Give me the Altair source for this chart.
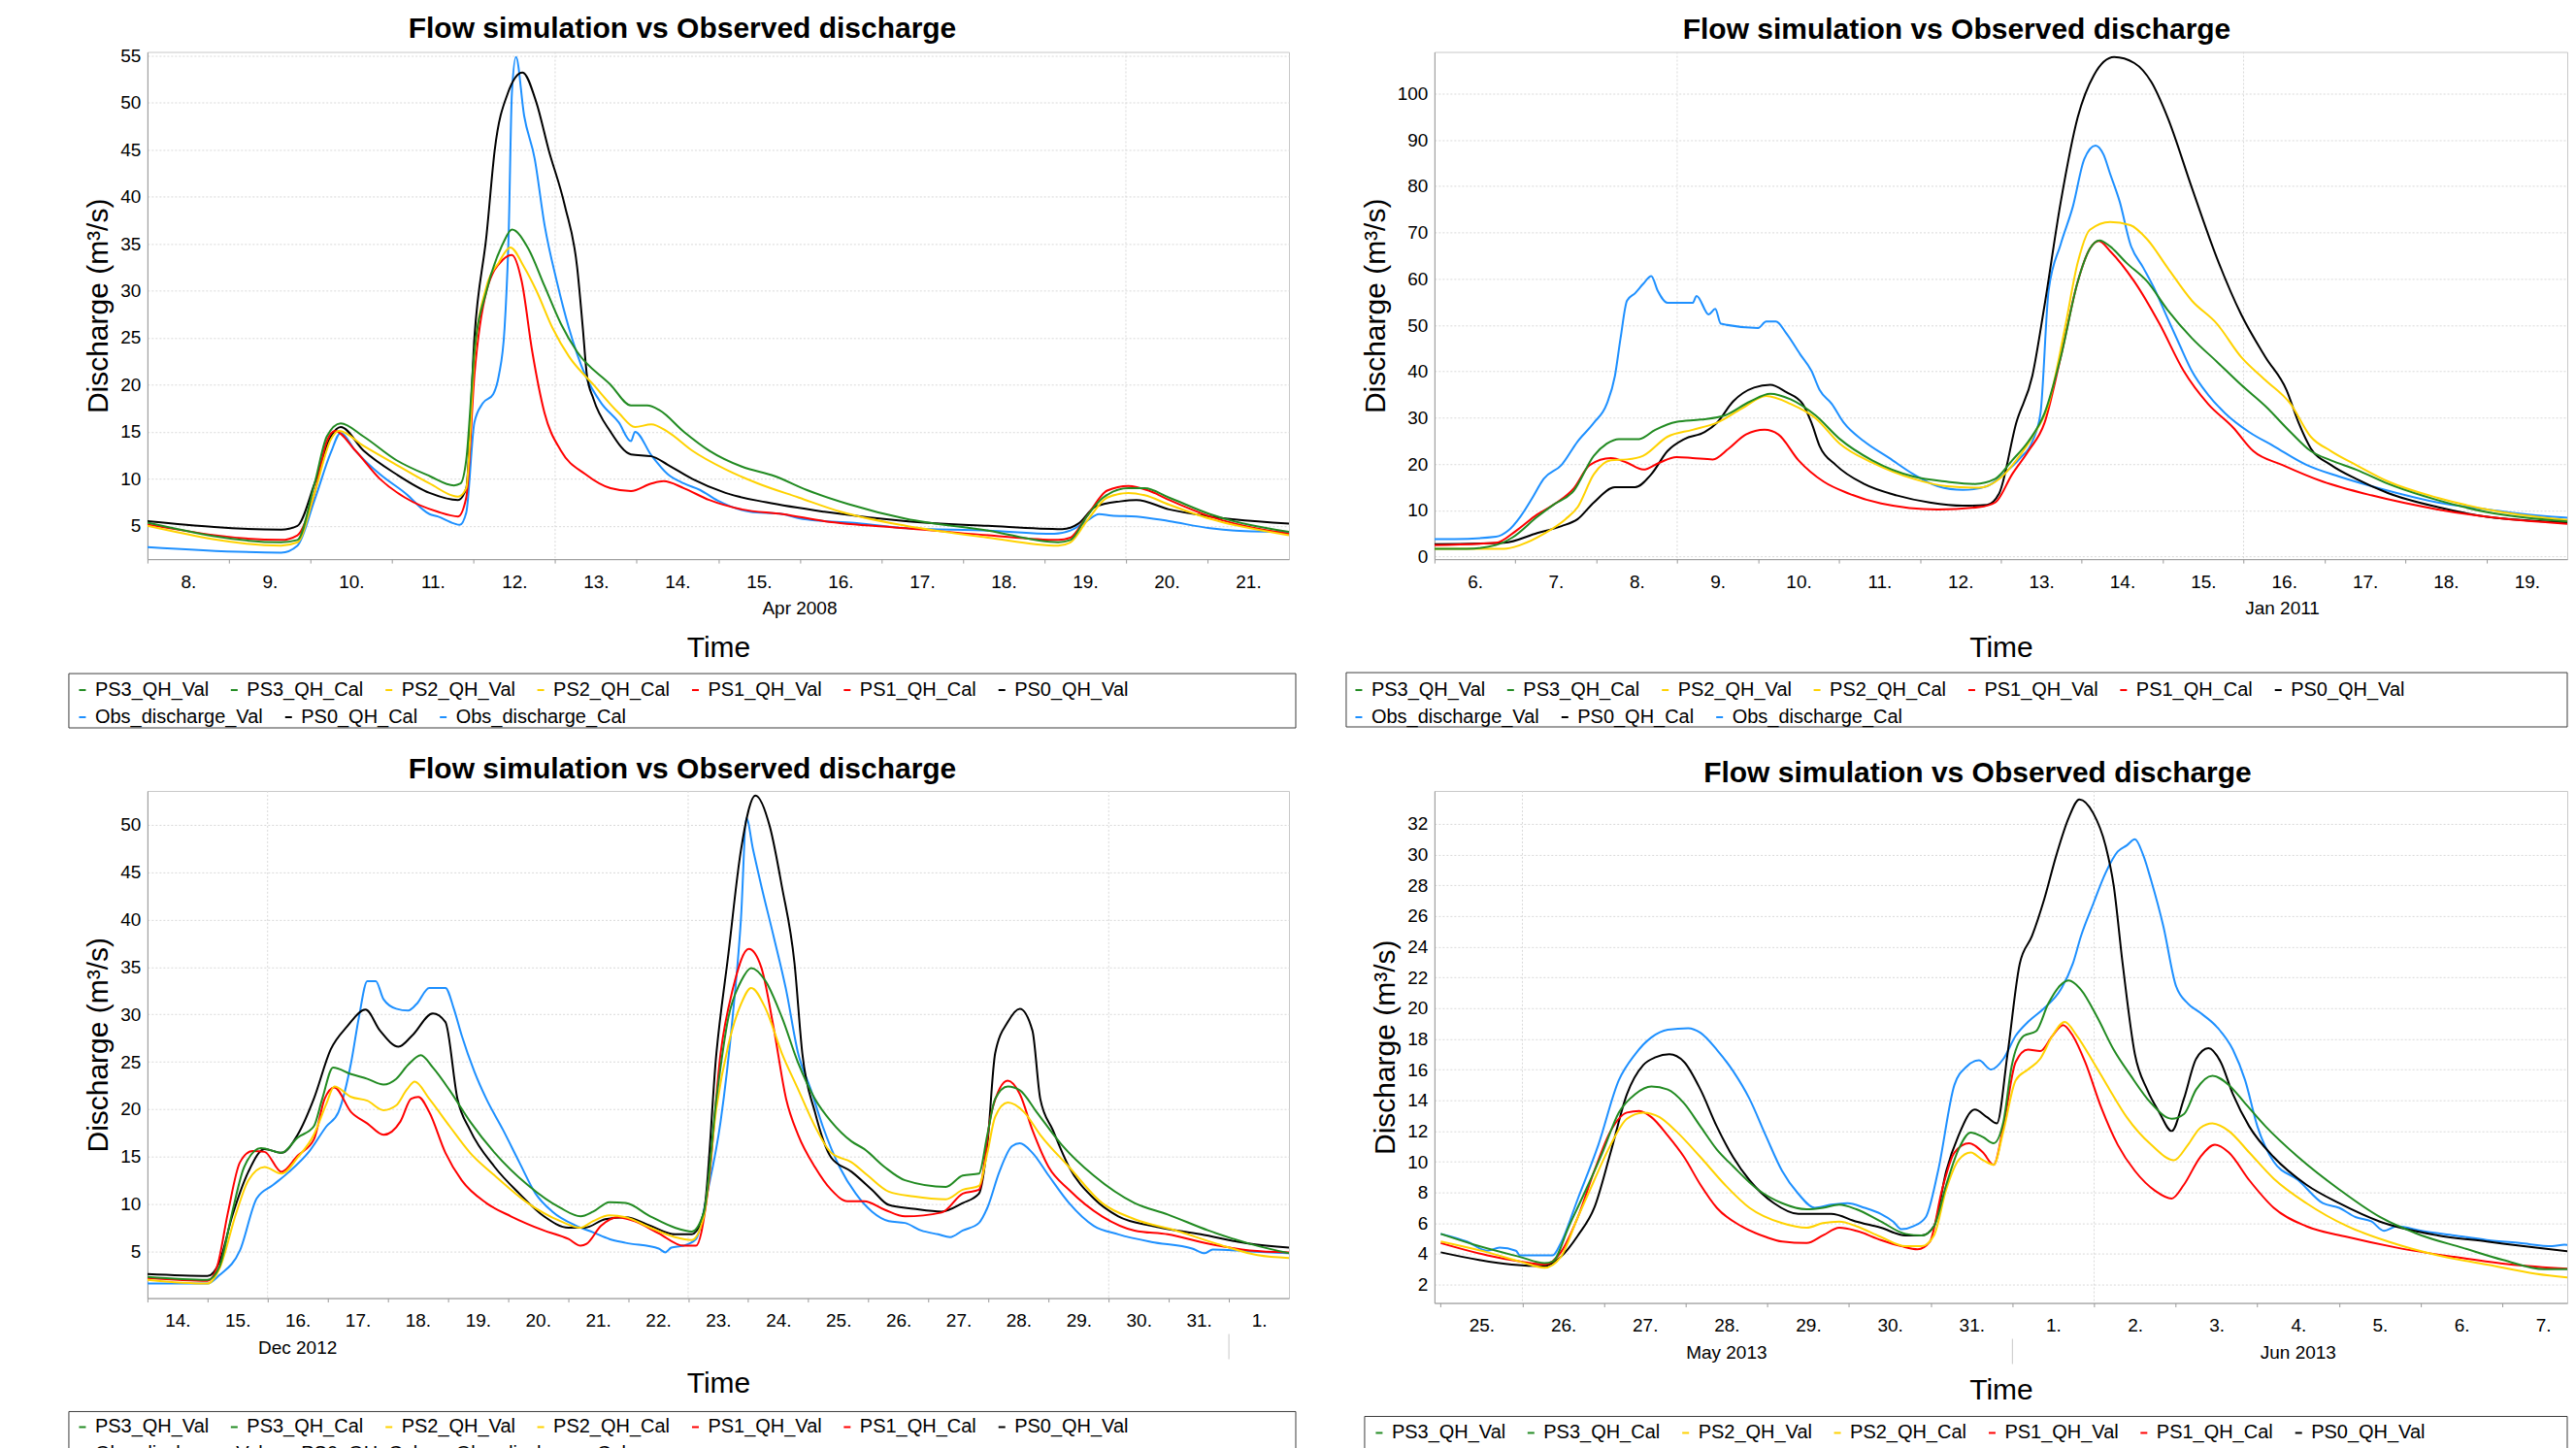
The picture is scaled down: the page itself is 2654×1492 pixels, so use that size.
import altair as alt
import pandas as pd

FONT = "Liberation Sans"
TITLE = "Flow simulation vs Observed discharge"
Y_TITLE = "Discharge (m³/s)"
X_TITLE = "Time"

# legend row 1 (model series) and row 2 (observed + PS0 calibration)
ROW1_NAMES = ["PS3_QH_Val", "PS3_QH_Cal", "PS2_QH_Val", "PS2_QH_Cal", "PS1_QH_Val", "PS1_QH_Cal", "PS0_QH_Val"]
ROW1_COLORS = ["#228B22", "#228B22", "#FFD200", "#FFD200", "#FF0000", "#FF0000", "#000000"]
ROW2_NAMES = ["Obs_discharge_Val", "PS0_QH_Cal", "Obs_discharge_Cal"]
ROW2_COLORS = ["#1E90FF", "#000000", "#1E90FF"]

# ---------------- Panel 1 : April 2008 (x = day of month) ----------------
p1_obs = [(8.0,2.75),(9.64,2.15),(9.84,2.9),(10.05,7.75),(10.25,12.8),(10.37,14.9),(10.55,13.0),(10.85,10.5),
          (11.16,8.5),(11.46,6.25),(11.56,6.0),(11.76,5.25),(11.83,5.1),(11.91,6.4),(12.01,16.0),(12.11,18.0),
          (12.24,19.0),(12.31,21.0),(12.38,26.0),(12.43,36.0),(12.47,51.0),(12.52,54.85),(12.62,48.6),(12.75,44.0),
          (12.87,37.0),(13.02,31.0),(13.17,26.0),(13.37,21.0),(13.57,18.0),(13.78,16.0),(13.93,14.0),(13.98,15.0),
          (14.18,12.5),(14.38,10.5),(14.58,9.5),(14.78,8.8),(14.99,7.7),(15.39,6.5),(15.79,6.25),(15.99,5.8),
          (16.30,5.5),(16.70,5.3),(17.30,4.75),(18.31,4.5),(19.12,4.15),(19.32,4.5),(19.52,5.5),(19.67,6.25),
          (19.82,6.1),(20.13,6.0),(20.53,5.5),(21.03,4.75),(21.34,4.5),(22.0,4.35)]
p1_ps0 = [(8.0,5.5),(9.64,4.6),(9.84,5.0),(10.05,9.5),(10.25,14.5),(10.37,15.5),(10.65,13.0),(11.05,10.5),
          (11.46,8.5),(11.81,7.75),(11.91,9.0),(12.01,25.0),(12.16,36.0),(12.26,45.0),(12.42,51.0),(12.60,53.2),
          (12.77,50.0),(12.92,45.0),(13.12,39.0),(13.27,32.5),(13.34,26.0),(13.39,21.0),(13.47,18.5),(13.68,15.0),
          (13.93,12.6),(14.18,12.4),(14.38,11.5),(14.68,10.0),(15.09,8.5),(15.59,7.5),(16.30,6.5),(17.30,5.5),
          (18.31,5.0),(19.22,4.65),(19.42,5.25),(19.62,7.0),(19.93,7.6),(20.13,7.75),(20.53,6.75),(21.03,6.0),(22.0,5.25)]
p1_ps3 = [(8.0,5.35),(9.64,3.25),(9.84,3.5),(10.05,9.5),(10.20,14.5),(10.37,15.9),(10.65,14.5),(11.05,12.0),
          (11.46,10.3),(11.76,9.3),(11.84,9.5),(11.91,12.0),(12.01,23.5),(12.16,30.0),(12.36,35.0),(12.47,36.5),
          (12.67,34.5),(12.87,30.5),(13.07,26.5),(13.27,23.5),(13.68,20.0),(13.93,17.8),(14.13,17.8),(14.28,17.3),
          (14.58,15.0),(14.89,13.0),(15.29,11.3),(15.69,10.3),(16.09,8.8),(16.60,7.3),(17.30,5.75),(18.31,4.5),
          (19.17,3.25),(19.32,3.5),(19.52,6.0),(19.72,8.0),(20.03,9.0),(20.23,9.0),(20.53,8.0),(21.03,6.25),(22.0,4.35)]
p1_ps2 = [(8.0,5.0),(9.64,2.9),(9.84,3.25),(10.05,8.5),(10.25,14.2),(10.35,15.1),(10.65,13.5),(11.05,11.5),
          (11.46,9.5),(11.81,8.1),(11.91,9.0),(12.01,23.0),(12.16,30.5),(12.31,33.0),(12.45,34.6),(12.62,32.5),
          (12.77,30.0),(12.97,26.0),(13.17,23.0),(13.47,20.0),(13.78,17.0),(13.98,15.5),(14.18,15.8),(14.38,15.0),
          (14.68,13.0),(15.09,11.0),(15.49,9.5),(15.99,8.0),(16.50,6.5),(17.30,5.0),(18.31,3.75),(19.17,2.9),
          (19.32,3.25),(19.52,5.5),(19.77,8.0),(20.03,8.5),(20.23,8.25),(20.53,7.25),(21.03,5.75),(22.0,4.0)]
p1_ps1 = [(8.0,5.15),(9.64,3.5),(9.84,4.0),(10.05,8.5),(10.20,14.0),(10.30,15.1),(10.55,13.0),(10.85,10.0),
          (11.16,8.0),(11.56,6.5),(11.81,6.0),(11.91,8.0),(12.01,21.0),(12.16,30.0),(12.36,33.3),(12.47,33.8),
          (12.59,31.0),(12.72,23.5),(12.87,17.0),(13.07,13.0),(13.37,10.5),(13.68,9.0),(13.93,8.7),(14.18,9.5),
          (14.33,9.75),(14.58,9.0),(14.89,7.75),(15.29,6.75),(15.79,6.25),(16.30,5.5),(17.30,4.75),(18.31,4.0),
          (19.17,3.5),(19.32,3.75),(19.52,6.0),(19.77,8.75),(20.03,9.25),(20.28,8.75),(20.53,7.75),(21.03,6.0),(22.0,4.15)]

# ---------------- Panel 2 : January 2011 ----------------
p2_obs = [(6.0,3.8),(6.25,3.8),(6.76,4.3),(6.91,5.6),(7.06,8.6),(7.21,12.7),(7.35,16.8),(7.57,19.8),(7.77,24.9),
          (7.97,28.9),(8.13,33.0),(8.23,39.0),(8.30,47.2),(8.38,55.3),(8.48,56.9),(8.58,58.9),(8.68,60.6),(8.76,57.4),
          (8.88,54.8),(9.19,54.8),(9.24,56.3),(9.39,52.3),(9.47,53.5),(9.54,50.3),(10.00,49.4),(10.10,50.8),
          (10.22,50.8),(10.35,48.2),(10.52,43.7),(10.66,40.1),(10.76,36.0),(10.91,33.0),(11.06,28.9),(11.31,24.9),
          (11.62,21.3),(11.92,17.8),(12.22,15.2),(12.53,14.4),(12.83,15.2),(13.03,17.8),(13.24,21.3),(13.39,24.9),
          (13.49,31.0),(13.59,57.4),(13.74,67.5),(13.89,75.6),(14.03,85.8),(14.17,88.8),(14.27,86.8),(14.35,82.7),
          (14.47,76.6),(14.60,67.5),(14.76,62.4),(14.91,57.4),(15.04,52.3),(15.21,45.7),(15.36,40.1),(15.56,35.0),
          (15.77,31.0),(16.07,26.9),(16.37,23.9),(16.78,19.8),(17.18,17.3),(17.69,14.7),(18.40,11.7),(19.01,10.2),
          (19.61,8.9),(19.82,8.6),(20.0,8.4)]
p2_ps0 = [(6.0,2.7),(6.86,3.0),(7.27,5.1),(7.57,6.6),(7.77,8.1),(7.97,11.7),(8.23,15.0),(8.48,15.0),(8.68,17.8),
          (8.88,22.8),(9.09,25.4),(9.34,26.9),(9.49,28.9),(9.69,33.5),(9.95,36.5),(10.15,37.1),(10.35,35.5),
          (10.55,33.0),(10.66,28.9),(10.76,23.9),(10.96,19.8),(11.31,15.7),(11.72,13.2),(12.12,11.7),(12.53,11.0),
          (12.83,11.2),(12.98,13.7),(13.19,28.9),(13.39,39.1),(13.54,54.3),(13.74,76.6),(13.95,94.9),(14.15,104.0),
          (14.40,107.9),(14.65,106.6),(14.86,102.5),(15.06,94.9),(15.36,79.7),(15.67,64.5),(15.97,52.3),(16.27,43.1),
          (16.53,36.0),(16.68,28.9),(16.83,23.4),(17.08,19.8),(17.39,16.8),(17.79,13.7),(18.40,10.7),(19.01,8.6),(20.0,7.4)]
p2_ps3 = [(6.0,1.7),(6.40,1.7),(6.76,2.5),(6.96,4.1),(7.27,8.6),(7.47,11.2),(7.72,14.2),(7.97,21.8),(8.13,24.4),
          (8.28,25.4),(8.53,25.4),(8.73,27.4),(8.99,29.1),(9.29,29.6),(9.59,30.5),(9.90,33.5),(10.15,35.2),(10.40,34.0),
          (10.71,30.5),(11.01,25.4),(11.41,20.8),(11.92,17.3),(12.33,16.2),(12.68,15.7),(12.93,16.8),(13.14,20.8),
          (13.34,24.9),(13.54,31.0),(13.74,43.1),(13.95,59.4),(14.10,66.5),(14.22,68.3),(14.35,67.0),(14.55,63.5),
          (14.81,59.4),(15.06,53.3),(15.36,47.2),(15.67,42.1),(15.97,37.1),(16.27,32.5),(16.58,26.9),(16.83,22.8),
          (17.08,20.8),(17.39,18.8),(17.79,15.7),(18.40,12.2),(19.01,9.6),(20.0,7.6)]
p2_ps2 = [(6.0,1.7),(6.86,1.7),(7.06,2.5),(7.37,5.1),(7.62,8.1),(7.77,10.7),(7.97,17.8),(8.18,20.8),(8.38,21.0),
          (8.58,21.8),(8.88,25.9),(9.19,27.4),(9.49,28.9),(9.80,32.0),(10.10,34.7),(10.40,33.0),(10.71,29.9),
          (11.01,24.4),(11.41,20.3),(11.92,16.8),(12.33,15.2),(12.73,14.9),(12.98,16.8),(13.19,20.8),(13.39,25.9),
          (13.59,33.0),(13.79,49.2),(13.95,63.5),(14.10,70.6),(14.35,72.3),(14.60,71.6),(14.81,68.5),(15.06,62.4),
          (15.36,55.3),(15.67,50.3),(15.97,43.1),(16.27,38.1),(16.58,33.0),(16.83,25.9),(17.08,22.8),(17.39,19.8),
          (17.79,16.2),(18.40,12.7),(19.01,10.2),(20.0,7.9)]
p2_ps1 = [(6.0,2.5),(6.76,3.0),(7.01,5.6),(7.27,9.1),(7.47,11.2),(7.72,14.7),(7.92,19.8),(8.18,21.3),(8.38,20.3),
          (8.58,18.8),(8.78,20.3),(8.99,21.5),(9.19,21.3),(9.44,21.0),(9.64,23.4),(9.85,26.4),(10.08,27.4),(10.25,26.4),
          (10.50,20.8),(10.81,16.2),(11.11,13.7),(11.52,11.5),(12.22,10.2),(12.73,10.7),(12.93,11.7),(13.14,17.8),
          (13.34,22.8),(13.54,28.9),(13.74,43.1),(13.95,59.4),(14.10,66.5),(14.21,68.2),(14.35,66.0),(14.65,59.4),
          (14.96,50.3),(15.26,40.1),(15.56,33.0),(15.87,27.9),(16.12,22.8),(16.48,19.8),(16.98,16.2),(17.59,13.2),
          (18.40,10.2),(19.01,8.6),(20.0,7.1)]

# ---------------- Panel 3 : December 2012 (32 = 1 Jan) ----------------
p3_obs = [(14.0,1.6),(15.0,1.6),(15.20,2.5),(15.54,5.1),(15.82,10.6),(16.09,12.0),(16.36,13.4),(16.70,15.6),
          (16.98,18.2),(17.18,19.7),(17.39,24.9),(17.52,29.7),(17.66,33.5),(17.80,33.5),(17.93,31.6),(18.14,30.6),
          (18.34,30.4),(18.48,31.1),(18.69,32.8),(18.96,32.8),(19.10,30.6),(19.23,27.8),(19.44,24.0),(19.64,21.1),
          (19.92,17.8),(20.19,14.4),(20.46,11.1),(20.74,9.2),(21.14,7.7),(21.42,7.0),(21.69,6.3),(21.96,5.9),
          (22.51,5.3),(22.62,4.9),(22.72,5.4),(22.92,5.6),(23.13,6.3),(23.33,11.5),(23.54,18.7),(23.74,29.7),
          (23.88,40.2),(23.97,50.7),(24.08,47.4),(24.22,43.5),(24.42,38.3),(24.63,32.6),(24.83,25.9),(25.04,22.1),
          (25.24,18.2),(25.52,13.9),(25.79,11.1),(26.06,9.2),(26.34,8.2),(26.61,8.0),(26.88,7.2),(27.16,6.8),
          (27.36,6.5),(27.57,7.2),(27.84,8.0),(27.98,9.6),(28.18,13.4),(28.39,16.1),(28.52,16.4),(28.73,15.4),
          (29.00,13.0),(29.34,10.1),(29.75,7.7),(30.16,6.8),(30.71,6.0),(31.39,5.3),(31.60,4.8),(31.73,5.2),
          (32.35,5.0),(33.0,4.8)]
p3_ps0 = [(14.0,2.6),(15.0,2.4),(15.20,3.9),(15.41,8.7),(15.68,13.4),(15.95,15.8),(16.23,15.4),(16.50,17.3),
          (16.77,21.1),(17.05,26.3),(17.32,28.7),(17.63,30.5),(17.87,28.3),(18.18,26.6),(18.41,27.8),(18.75,30.1),
          (18.96,29.2),(19.16,21.1),(19.37,17.8),(19.78,13.9),(20.19,11.1),(20.60,8.7),(21.01,7.5),(21.28,7.5),
          (21.62,8.4),(21.96,8.6),(22.37,7.7),(22.78,6.8),(23.06,6.8),(23.26,9.1),(23.47,25.9),(23.67,36.4),
          (23.88,47.4),(24.12,53.1),(24.36,49.8),(24.56,43.5),(24.77,35.4),(24.90,25.9),(25.11,19.7),(25.38,14.9),
          (25.72,13.4),(26.06,11.5),(26.34,9.9),(26.75,9.5),(27.22,9.2),(27.57,10.1),(27.84,11.1),(27.98,16.3),
          (28.11,25.9),(28.32,29.2),(28.52,30.6),(28.73,28.3),(28.86,21.1),(29.07,17.8),(29.34,13.9),(29.75,10.6),
          (30.16,8.7),(30.71,7.7),(31.53,6.8),(32.35,5.8),(33.0,5.4)]
p3_ps3 = [(14.0,2.3),(15.0,2.0),(15.20,3.4),(15.41,9.1),(15.61,13.9),(15.89,15.9),(16.23,15.4),(16.50,17.0),
          (16.77,18.2),(16.91,21.1),(17.09,24.4),(17.39,23.7),(17.66,23.2),(17.93,22.6),(18.14,23.2),(18.34,24.7),
          (18.55,25.7),(18.75,24.4),(19.03,22.0),(19.37,18.7),(19.78,15.4),(20.33,12.0),(20.87,9.6),(21.21,8.7),
          (21.42,9.2),(21.69,10.2),(21.96,10.1),(22.37,8.7),(22.78,7.5),(23.06,7.1),(23.26,9.1),(23.47,21.1),
          (23.67,29.7),(23.88,33.5),(24.05,34.9),(24.29,33.5),(24.56,29.7),(24.83,24.9),(25.11,21.1),(25.38,18.7),
          (25.72,16.6),(25.93,15.8),(26.27,13.9),(26.61,12.5),(27.29,11.8),(27.57,13.0),(27.84,13.2),(27.98,17.3),
          (28.11,21.1),(28.32,22.4),(28.52,22.0),(28.80,19.7),(29.21,16.3),(29.75,13.0),(30.43,10.1),(30.98,8.9),
          (31.66,7.2),(32.35,5.8),(33.0,4.8)]
p3_ps2 = [(14.0,2.0),(15.0,1.6),(15.20,3.2),(15.48,9.1),(15.68,12.5),(15.95,13.9),(16.23,13.2),(16.50,14.9),
          (16.77,17.3),(16.98,20.6),(17.11,22.4),(17.39,21.3),(17.66,20.9),(17.93,19.9),(18.14,20.4),(18.32,22.1),
          (18.45,22.9),(18.69,21.1),(19.03,18.2),(19.37,15.4),(19.78,13.0),(20.33,10.1),(20.87,8.2),(21.21,7.5),
          (21.42,8.2),(21.69,8.8),(21.96,8.6),(22.37,7.5),(22.78,6.5),(23.06,6.2),(23.26,8.7),(23.47,20.1),
          (23.67,26.8),(23.88,31.1),(24.05,32.8),(24.29,30.6),(24.56,25.9),(24.83,22.1),(25.11,18.2),(25.38,15.4),
          (25.72,14.4),(25.99,13.0),(26.34,11.3),(26.75,10.8),(27.29,10.5),(27.57,11.5),(27.84,11.9),(27.98,15.4),
          (28.11,19.2),(28.32,20.7),(28.59,19.7),(28.86,17.3),(29.34,13.9),(29.89,10.1),(30.43,8.4),(31.12,7.2),
          (31.80,5.8),(32.48,4.6),(33.0,4.3)]
p3_ps1 = [(14.0,2.2),(15.0,1.9),(15.16,3.4),(15.34,9.1),(15.54,14.4),(15.75,15.6),(15.95,15.5),(16.23,13.4),
          (16.50,15.1),(16.77,16.8),(16.95,21.1),(17.11,22.3),(17.39,19.7),(17.66,18.5),(17.93,17.3),(18.21,18.7),
          (18.39,21.1),(18.51,21.3),(18.69,19.7),(18.96,15.4),(19.23,12.5),(19.64,10.1),(20.05,8.7),(20.60,7.2),
          (21.01,6.3),(21.21,5.6),(21.31,5.8),(21.55,7.7),(21.83,8.6),(22.10,8.2),(22.51,6.9),(22.92,5.6),
          (23.13,5.6),(23.33,11.5),(23.54,25.9),(23.74,32.6),(24.01,36.9),(24.22,34.9),(24.42,28.7),(24.63,21.1),
          (24.83,17.3),(25.11,13.9),(25.38,11.5),(25.65,10.3),(25.93,10.3),(26.27,9.4),(26.61,8.7),(27.22,9.1),
          (27.57,11.1),(27.84,11.5),(28.05,19.7),(28.32,23.0),(28.52,21.6),(28.73,17.8),(29.00,13.9),(29.34,11.5),
          (29.89,8.7),(30.43,7.2),(30.98,6.8),(31.66,5.8),(32.35,5.1),(33.0,4.9)]

# ---------------- Panel 4 : May/June 2013 (32 = 1 Jun) ----------------
p4_obs = [(25.0,5.3),(25.32,4.8),(25.57,4.2),(25.72,4.4),(25.92,4.2),(25.97,3.9),(26.37,3.9),(26.47,4.7),
          (26.68,7.6),(26.93,11.1),(27.18,15.3),(27.38,17.0),(27.58,18.1),(27.78,18.6),(28.03,18.7),(28.18,18.4),
          (28.38,17.3),(28.58,15.9),(28.78,14.1),(28.98,11.7),(29.18,9.4),(29.38,7.9),(29.58,7.0),(29.78,7.2),
          (29.98,7.3),(30.19,7.0),(30.39,6.6),(30.54,6.1),(30.64,5.6),(30.79,5.8),(30.94,6.4),(31.09,9.4),
          (31.29,15.0),(31.44,16.2),(31.59,16.6),(31.74,16.0),(31.89,16.7),(32.04,18.2),(32.19,19.1),(32.39,20.0),
          (32.59,21.2),(32.74,22.9),(32.84,24.7),(32.99,26.8),(33.14,28.8),(33.29,30.2),(33.40,30.6),(33.50,31.0),
          (33.60,30.0),(33.70,28.3),(33.85,25.3),(34.00,21.5),(34.15,20.3),(34.30,19.7),(34.50,18.8),(34.70,17.3),
          (34.85,15.3),(35.00,12.3),(35.20,10.0),(35.50,8.8),(35.80,7.3),(36.00,7.0),(36.20,6.4),(36.40,6.1),
          (36.55,5.5),(36.71,5.8),(37.01,5.5),(37.41,5.2),(37.81,4.9),(38.21,4.7),(38.61,4.5),(38.76,4.6),(38.9,4.4)]
p4_ps0 = [(25.0,4.1),(25.47,3.6),(25.87,3.3),(26.27,3.2),(26.47,3.8),(26.68,5.2),(26.88,7.0),(27.08,10.6),
          (27.28,14.4),(27.48,16.3),(27.63,16.8),(27.80,17.0),(27.98,16.5),(28.18,14.7),(28.38,12.3),(28.58,10.3),
          (28.78,8.8),(29.08,7.3),(29.38,6.6),(29.58,6.6),(29.78,6.6),(30.09,6.1),(30.39,5.7),(30.69,5.2),
          (30.89,5.2),(31.04,5.8),(31.19,9.4),(31.34,11.7),(31.54,13.4),(31.69,12.9),(31.81,12.5),(31.94,17.0),
          (32.09,22.9),(32.24,24.7),(32.39,27.1),(32.54,30.0),(32.69,32.4),(32.82,33.6),(32.99,32.7),(33.14,30.6),
          (33.24,28.0),(33.35,22.9),(33.50,17.0),(33.65,14.7),(33.80,13.2),(33.95,12.0),(34.10,14.1),(34.25,16.7),
          (34.40,17.4),(34.55,16.5),(34.70,14.4),(34.90,12.3),(35.20,10.3),(35.60,8.5),(36.00,7.3),(36.50,6.1),
          (37.21,5.2),(37.81,4.8),(38.41,4.4),(38.9,4.1)]
p4_ps3 = [(25.0,5.3),(25.47,4.5),(25.97,3.8),(26.27,3.4),(26.37,3.5),(26.57,5.8),(26.78,8.2),(26.98,10.6),
          (27.18,13.2),(27.38,14.4),(27.58,14.9),(27.78,14.7),(27.98,13.8),(28.18,12.3),(28.38,10.8),(28.58,9.7),
          (28.88,8.2),(29.18,7.3),(29.48,6.9),(29.68,7.0),(29.88,7.2),(30.09,6.9),(30.39,6.1),(30.69,5.3),
          (30.89,5.2),(31.04,5.8),(31.19,8.5),(31.34,10.8),(31.49,11.9),(31.64,11.6),(31.77,11.2),(31.89,12.6),
          (31.99,16.2),(32.14,18.2),(32.29,18.5),(32.44,20.3),(32.59,21.5),(32.69,21.8),(32.84,21.2),(33.04,19.4),
          (33.24,17.3),(33.45,15.6),(33.70,13.8),(33.95,12.8),(34.10,13.1),(34.25,14.7),(34.45,15.6),(34.65,15.0),
          (34.85,13.8),(35.10,12.3),(35.50,10.3),(36.00,8.2),(36.50,6.4),(37.01,5.2),(37.51,4.4),(38.01,3.6),
          (38.51,3.0),(38.9,3.0)]
p4_ps2 = [(25.0,4.8),(25.57,4.1),(25.97,3.5),(26.27,3.1),(26.47,3.8),(26.68,6.4),(26.88,8.8),(27.08,11.1),
          (27.28,12.8),(27.48,13.2),(27.68,12.9),(27.88,12.0),(28.18,10.3),(28.48,8.5),(28.78,7.0),(29.18,6.0),
          (29.48,5.7),(29.68,6.0),(29.88,6.1),(30.09,5.8),(30.39,5.1),(30.69,4.5),(30.89,4.5),(31.04,5.2),
          (31.19,8.2),(31.34,10.1),(31.49,10.6),(31.64,10.1),(31.77,9.8),(31.89,12.0),(32.04,15.3),(32.19,16.0),
          (32.34,16.7),(32.49,18.2),(32.64,19.1),(32.79,18.2),(32.99,16.5),(33.19,14.7),(33.40,12.9),(33.70,11.1),
          (33.98,10.1),(34.15,11.1),(34.30,12.2),(34.45,12.5),(34.65,12.0),(34.90,10.6),(35.20,8.9),(35.60,7.3),
          (36.10,5.8),(36.60,4.8),(37.21,3.9),(37.81,3.3),(38.41,2.7),(38.9,2.4)]
p4_ps1 = [(25.0,4.7),(25.57,3.9),(25.97,3.5),(26.27,3.3),(26.47,4.1),(26.68,6.4),(26.88,9.4),(27.08,12.0),
          (27.28,13.2),(27.43,13.3),(27.58,12.9),(27.78,11.7),(27.98,10.3),(28.18,8.5),(28.38,7.0),(28.68,5.8),
          (28.98,5.1),(29.18,4.8),(29.48,4.7),(29.68,5.2),(29.88,5.7),(30.09,5.5),(30.39,4.9),(30.64,4.5),
          (30.84,4.3),(30.99,4.8),(31.14,8.2),(31.29,10.6),(31.47,11.2),(31.64,10.6),(31.77,9.8),(31.89,12.3),
          (32.04,16.5),(32.19,17.3),(32.34,17.2),(32.49,18.2),(32.62,18.9),(32.74,18.2),(32.89,16.5),(33.09,13.5),
          (33.29,11.1),(33.50,9.4),(33.75,8.1),(33.95,7.6),(34.10,8.5),(34.30,10.3),(34.48,11.1),(34.65,10.6),
          (34.90,8.8),(35.20,7.0),(35.60,5.8),(36.10,5.1),(36.71,4.4),(37.41,3.8),(38.11,3.3),(38.9,3.0)]

# ---------------- axis ticks / labels ----------------
p1_days = list(range(8, 22))
p1_day_labels = ["8.", "9.", "10.", "11.", "12.", "13.", "14.", "15.", "16.", "17.", "18.", "19.", "20.", "21."]
p2_days = list(range(6, 20))
p2_day_labels = ["6.", "7.", "8.", "9.", "10.", "11.", "12.", "13.", "14.", "15.", "16.", "17.", "18.", "19."]
p3_days = list(range(14, 33))
p3_day_labels = ["14.", "15.", "16.", "17.", "18.", "19.", "20.", "21.", "22.", "23.", "24.", "25.", "26.",
                 "27.", "28.", "29.", "30.", "31.", "1."]
p4_days = list(range(25, 39))
p4_day_labels = ["25.", "26.", "27.", "28.", "29.", "30.", "31.", "1.", "2.", "3.", "4.", "5.", "6.", "7."]

p1_yticks = [5, 10, 15, 20, 25, 30, 35, 40, 45, 50, 55]
p2_yticks = [0, 10, 20, 30, 40, 50, 60, 70, 80, 90, 100]
p3_yticks = [5, 10, 15, 20, 25, 30, 35, 40, 45, 50]
p4_yticks = [2, 4, 6, 8, 10, 12, 14, 16, 18, 20, 22, 24, 26, 28, 30, 32]

p1_months, p1_month_x = ["Apr 2008"], [16.0]
p2_months, p2_month_x = ["Jan 2011"], [16.48]
p3_months, p3_month_x = ["Dec 2012"], [16.5]
p4_months, p4_month_x = ["May 2013", "Jun 2013"], [28.5, 35.5]

p1_week_lines = [13, 20]
p2_week_lines = [9, 16]
p3_week_lines = [16, 23, 30]
p4_week_lines = [26, 33]

p3_month_breaks = [32]
p4_month_breaks = [32]


def legend(xy, ncol):
    return alt.Legend(orient="none", legendX=xy[0], legendY=xy[1], direction="horizontal",
                      columns=ncol, title=None, symbolType="stroke", symbolSize=49,
                      symbolStrokeWidth=2, labelFontSize=20, labelColor="black", labelOffset=3,
                      columnPadding=15.5, padding=0, labelLimit=400)


def make_panel(obs, models, xdom, ydom, yticks, days, day_labels, months, month_x, weeks, breaks,
               width, height, box, leg1, leg2, title_offset, title_dx, x_title_y):
    obs_df = pd.DataFrame([{"day": d, "q": q, "series": "Obs_discharge_Val"} for d, q in obs])
    mod_rows = []
    for name, pts in models:
        for d, q in pts:
            mod_rows.append({"day": d, "q": q, "series": name})
    mod_df = pd.DataFrame(mod_rows)

    xs = alt.Scale(domain=xdom, nice=False, zero=False)
    ys = alt.Scale(domain=ydom, nice=False, zero=False)
    px_day = width / (xdom[1] - xdom[0])
    js_labels = "[" + ",".join("'%s'" % t for t in day_labels) + "]"
    x_axis = alt.Axis(values=days, labelExpr="%s[datum.value - %d]" % (js_labels, days[0]),
                      labelOffset=px_day / 2, labelFlush=False, labelOverlap=False,
                      labelFontSize=19, labelPadding=10, tickSize=4, tickColor="#9a9a9a",
                      domainColor="#9a9a9a", grid=False, title=X_TITLE, titleFontSize=30,
                      titleFontWeight="normal", titleY=x_title_y, titleBaseline="middle")
    y_axis = alt.Axis(values=yticks, labelFontSize=19, labelPadding=7, ticks=False,
                      domainColor="#9a9a9a", grid=True, gridColor="#d9d9d9", gridDash=[2, 2],
                      labelFlush=False, labelOverlap=False, title=Y_TITLE, titleFontSize=30,
                      titleFontWeight="normal", titlePadding=7)
    X = alt.X("day:Q", scale=xs, axis=x_axis)
    Y = alt.Y("q:Q", scale=ys, axis=y_axis)

    weeks_layer = alt.Chart(pd.DataFrame({"day": weeks})).mark_rule(
        color="#d9d9d9", strokeDash=[2, 2], strokeWidth=1).encode(
        x=X, y=alt.value(0), y2=alt.value(height))

    obs_layer = alt.Chart(obs_df).mark_line(strokeWidth=2, interpolate="monotone", clip=True).encode(
        x=X, y=Y,
        color=alt.Color("series:N", scale=alt.Scale(domain=ROW2_NAMES, range=ROW2_COLORS),
                        legend=legend(leg2, 3)))

    model_layer = alt.Chart(mod_df).mark_line(strokeWidth=2, interpolate="monotone", clip=True).encode(
        x=X, y=Y,
        color=alt.Color("series:N", scale=alt.Scale(domain=ROW1_NAMES, range=ROW1_COLORS),
                        legend=legend(leg1, 7)))

    month_layer = alt.Chart(pd.DataFrame({"day": month_x, "label": months})).mark_text(
        fontSize=19, color="black", baseline="middle", align="center").encode(
        x=X, y=alt.value(height + 51), text="label:N")

    layers = [weeks_layer, obs_layer, model_layer, month_layer]

    if breaks:
        layers.append(alt.Chart(pd.DataFrame({"day": breaks})).mark_rule(
            color="#c8c8c8", strokeWidth=1).encode(
            x=X, y=alt.value(height + 37), y2=alt.value(height + 63)))

    layers.append(alt.Chart(pd.DataFrame({"k": [0]})).mark_rect(
        fillOpacity=0, stroke="#3c3c3c", strokeWidth=1).encode(
        x=alt.value(box[0]), x2=alt.value(width + box[1]),
        y=alt.value(height + box[2]), y2=alt.value(height + box[3])))

    return alt.layer(*layers).resolve_scale(color="independent").properties(
        width=width, height=height,
        title=alt.TitleParams(TITLE, fontSize=30, fontWeight="bold", anchor="middle",
                              frame="bounds", offset=title_offset, dx=title_dx, color="black"))


def models(ps0, ps1, ps2, ps3):
    return [("PS0_QH_Val", ps0), ("PS1_QH_Val", ps1), ("PS2_QH_Val", ps2), ("PS3_QH_Val", ps3)]


w1, h1 = 1177, 523
w2, h2 = 1168, 523
w3, h3 = 1177, 523
w4, h4 = 1168, 528
p4_start = 25 - 6.5 / 84.2

panel1 = make_panel(p1_obs, models(p1_ps0, p1_ps1, p1_ps2, p1_ps3), [8, 22], [1.46, 55.38],
                    p1_yticks, p1_days, p1_day_labels, p1_months, p1_month_x, p1_week_lines, [],
                    w1, h1, (-81, 7, 118, 174), (-77, h1 + 125), (-77, h1 + 153), 3, 0, 91)
panel2 = make_panel(p2_obs, models(p2_ps0, p2_ps1, p2_ps2, p2_ps3), [6, 20], [-0.54, 109.0],
                    p2_yticks, p2_days, p2_day_labels, p2_months, p2_month_x, p2_week_lines, [],
                    w2, h2, (-91, 0, 117, 173), (-88, h2 + 125), (-88, h2 + 153), 7, 0, 91)
panel3 = make_panel(p3_obs, models(p3_ps0, p3_ps1, p3_ps2, p3_ps3), [14, 33], [0.07, 53.58],
                    p3_yticks, p3_days, p3_day_labels, p3_months, p3_month_x, p3_week_lines,
                    p3_month_breaks, w3, h3, (-81, 7, 117, 173), (-77, h3 + 123), (-77, h3 + 151), 6, 0, 88)
panel4 = make_panel(p4_obs, models(p4_ps0, p4_ps1, p4_ps2, p4_ps3), [p4_start, p4_start + w4 / 84.2],
                    [0.80, 34.15], p4_yticks, p4_days, p4_day_labels, p4_months, p4_month_x,
                    p4_week_lines, p4_month_breaks, w4, h4, (-72, 0, 117, 173), (-67, h4 + 124),
                    (-67, h4 + 152), 2, 12, 90)

chart = alt.concat(panel1, panel2, panel3, panel4, columns=2, bounds="flush",
                   spacing={"row": 239, "column": 150}).resolve_scale(color="independent").properties(
    padding={"left": 62, "top": 6, "right": 0, "bottom": 0}, background="white"
).configure(font=FONT).configure_view(stroke="#c8c8c8").configure_axis(
    labelFont=FONT, titleFont=FONT, labelColor="black", titleColor="black"
).configure_title(font=FONT).configure_legend(labelFont=FONT)

chart.save("out.html", embed_options={"renderer": "svg", "actions": False})
